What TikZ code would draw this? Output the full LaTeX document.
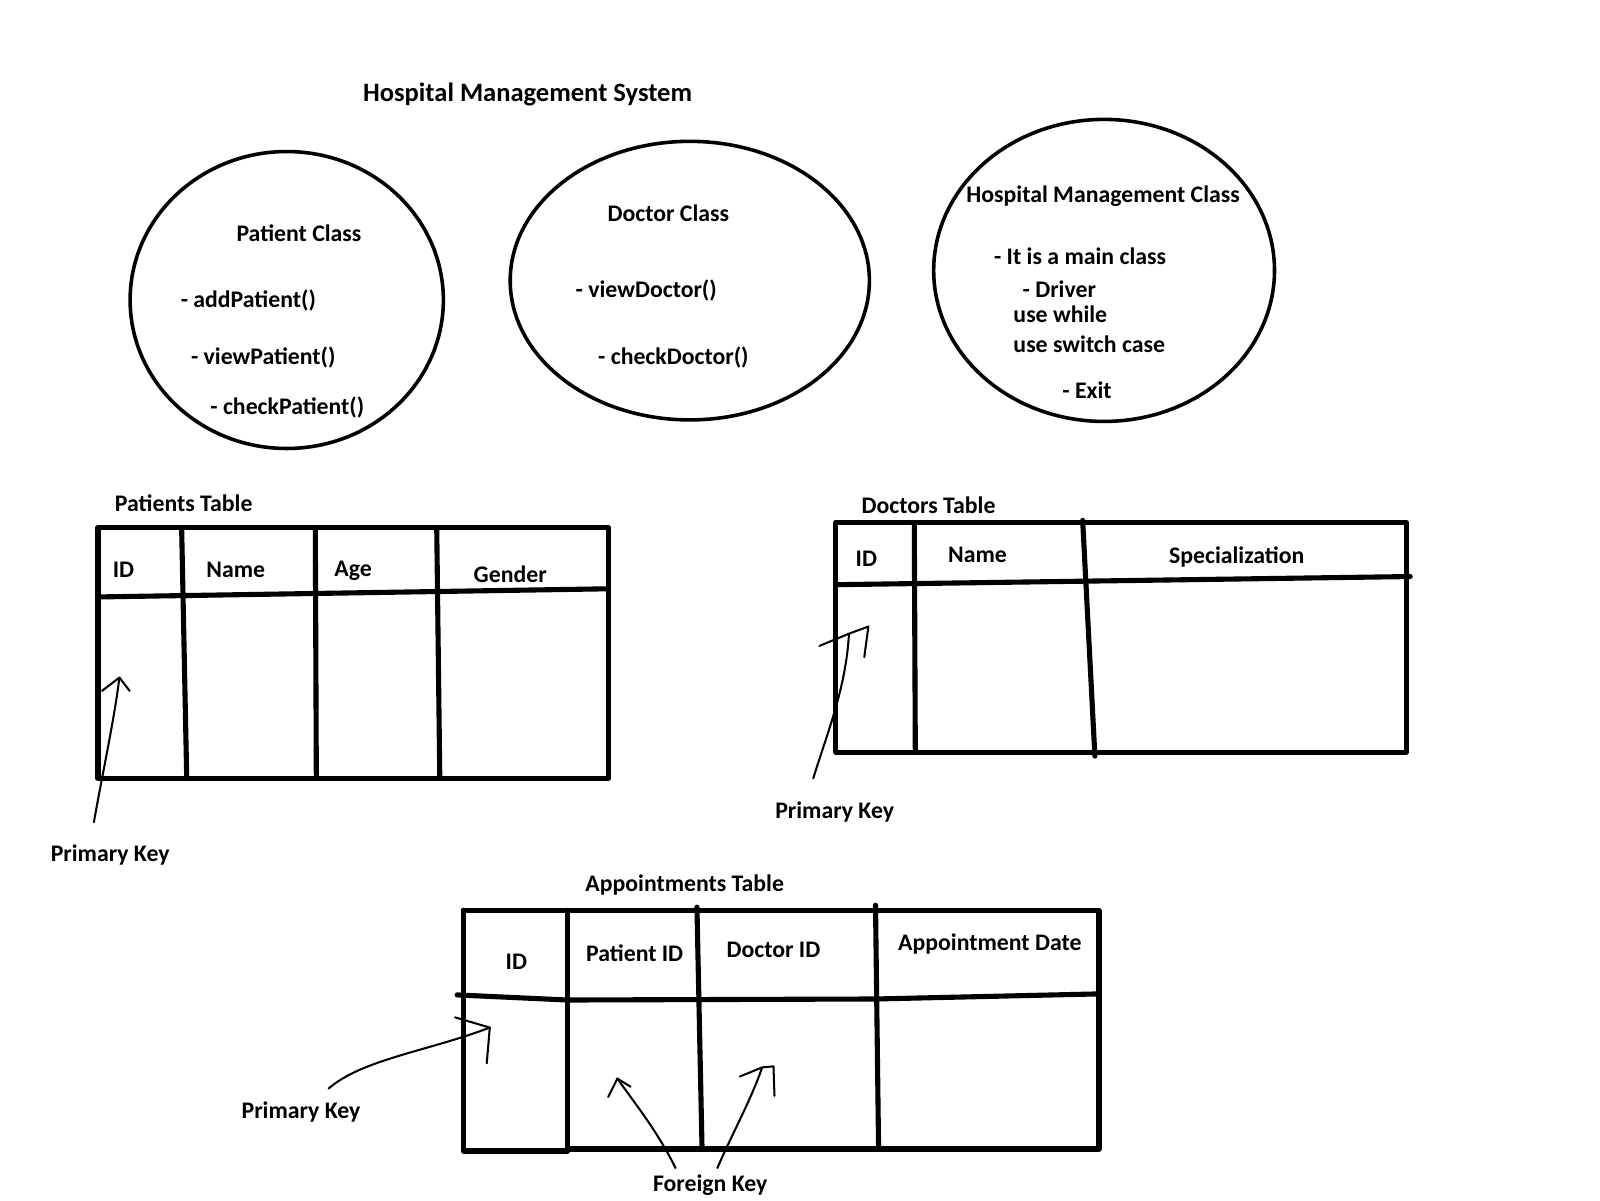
\documentclass[tikz,border=0pt]{standalone}
\usepackage{fontspec}
\setmainfont{Carlito}
\usepackage{tikz}
\usetikzlibrary{shapes.geometric}
\definecolor{bg}{HTML}{FFFFFF}
\definecolor{ink}{HTML}{000000}
\newcommand{\labfont}{\fontsize{23.3}{27}\selectfont\bfseries}
\newcommand{\ttlfont}{\fontsize{26}{30}\selectfont\bfseries}
\tikzset{
  grid/.style={draw=ink, line width=5pt, line cap=round, line join=round},
  cls/.style={ellipse, draw=ink, line width=3.5pt, inner sep=0pt},
  hand/.style={draw=ink, line width=2pt, line cap=round, line join=round},
  lab/.style={text=ink, font=\labfont, inner sep=0pt},
  labw/.style={lab, anchor=west},
  ttl/.style={text=ink, font=\ttlfont, inner sep=0pt},
}
\begin{document}
\begin{tikzpicture}[x=1pt, y=-1pt]
  \fill[bg] (0,0) rectangle (1568,1176);
  \node[ttl] (title) at (517,93) {Hospital Management System};

  % classes
  \node[cls, minimum width=307pt, minimum height=291pt] (patcls) at (281,294) {};
  \node[lab] (patname) at (293,229) {Patient Class};
  \node[labw] (pat1) at (177,294) {- addPatient()};
  \node[labw] (pat2) at (187,350) {- viewPatient()};
  \node[labw] (pat3) at (206,399) {- checkPatient()};

  \node[cls, minimum width=352pt, minimum height=273pt] (doccls) at (676,275) {};
  \node[lab] (docname) at (655,209) {Doctor Class};
  \node[labw] (doc1) at (564,285) {- viewDoctor()};
  \node[labw] (doc2) at (586,350) {- checkDoctor()};

  \node[cls, minimum width=334pt, minimum height=296pt] (hmcls) at (1082,265) {};
  \node[lab] (hmname) at (1081,192) {Hospital Management Class};
  \node[labw] (hm1) at (974,251) {- It is a main class};
  \node[labw] (hm2) at (1002,283) {- Driver};
  \node[labw] (hm3) at (993,308) {use while};
  \node[labw] (hm4) at (993,337) {use switch case};
  \node[labw] (hm5) at (1041,382) {- Exit};

  % patients table
  \node[lab] (pattab) at (180,493) {Patients Table};
  \draw[grid] (96,517) rectangle (596,763);
  \draw[grid] (96,585) -- (596,577);
  \draw[grid] (178,517) -- (183,763);
  \draw[grid] (309,517) -- (310,763);
  \draw[grid] (428,517) -- (431,763);
  \node[lab] (pid) at (121,558) {ID};
  \node[lab] (pname) at (231,558) {Name};
  \node[lab] (page) at (346,559) {Age};
  \node[lab] (pgen) at (500,563) {Gender};

  \node[lab] (pkp) at (108,838) {Primary Key};
  \coordinate (pkptip) at (117,664);
  \draw[hand] ([shift={(-16,-22)}]pkp.north) .. controls (101,755) and (112,705) .. (pkptip);
  \draw[hand] (100,677) -- (pkptip) -- (127,677);

  % doctors table
  \node[lab] (doctab) at (910,495) {Doctors Table};
  \draw[grid] (819,512) rectangle (1378,737);
  \draw[grid] (819,573) -- (1382,565);
  \draw[grid] (896,512) -- (897,737);
  \draw[grid] (1061,510) -- (1073,741);
  \node[lab] (did) at (849,548) {ID};
  \node[lab] (dname) at (958,544) {Name};
  \node[lab] (dspec) at (1212,546) {Specialization};

  \node[lab] (pkd) at (818,796) {Primary Key};
  \coordinate (pkdtip) at (832,621);
  \draw[hand] ([shift={(-21,-23)}]pkd.north) .. controls (810,720) and (829,675) .. (pkdtip);
  \draw[hand] (803,633) -- (pkdtip) -- (851,614) -- (847,644);

  % appointments table
  \node[lab] (apptab) at (671,867) {Appointments Table};
  \draw[grid] (454,892) -- (1077,892) -- (1077,1126) -- (556,1126);
  \draw[grid] (454,892) -- (454,1128) -- (556,1128);
  \draw[grid] (448,975) -- (556,980) -- (858,979) -- (1077,974);
  \draw[grid] (556,892) -- (556,1128);
  \draw[grid] (683,889) -- (688,1126);
  \draw[grid] (858,887) -- (861,1125);
  \node[lab] (aid) at (506,943) {ID};
  \node[lab] (apid) at (622,934) {Patient ID};
  \node[lab] (adid) at (758,931) {Doctor ID};
  \node[lab] (adate) at (970,925) {Appointment Date};

  \node[lab] (pka) at (295,1090) {Primary Key};
  \coordinate (pkatip) at (480,1007);
  \draw[hand] ([shift={(27,-13)}]pka.north) .. controls (355,1038) and (420,1030) .. (pkatip);
  \draw[hand] (446,997) -- (pkatip) -- (477,1042);

  \node[lab] (fk) at (696,1161) {Foreign Key};
  \coordinate (fkptip) at (605,1057);
  \coordinate (fkdtip) at (747,1046);
  \draw[hand] ([shift={(-34,-6)}]fk.north) .. controls (645,1110) and (625,1085) .. (fkptip);
  \draw[hand] (596,1075) -- (fkptip) -- (618,1065);
  \draw[hand] ([shift={(7,-6)}]fk.north) .. controls (718,1110) and (735,1080) .. (fkdtip);
  \draw[hand] (725,1055) -- (fkdtip) -- (758,1045) -- (759,1074);
\end{tikzpicture}
\end{document}
